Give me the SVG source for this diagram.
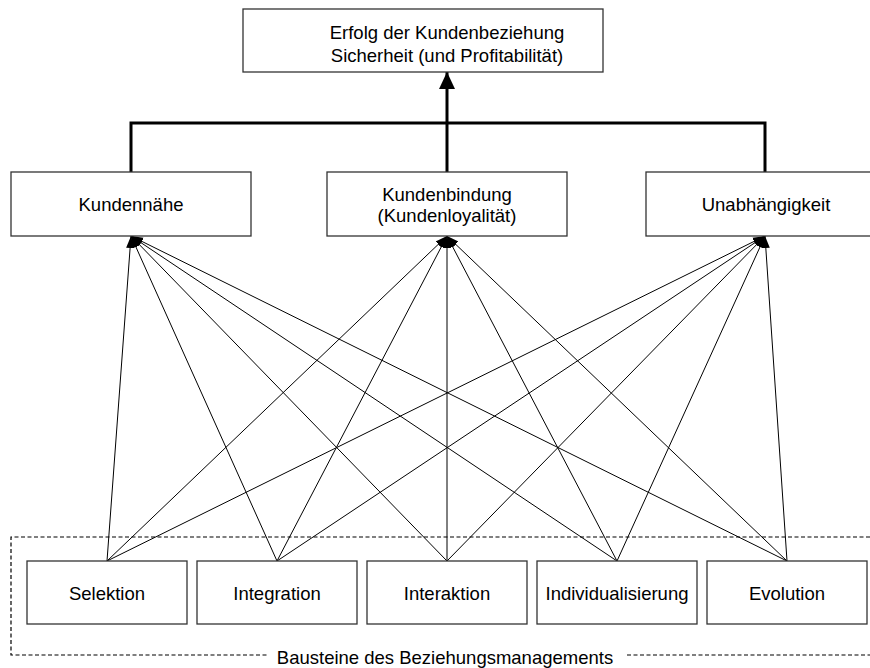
<svg xmlns="http://www.w3.org/2000/svg" width="870" height="668" viewBox="0 0 870 668">
  <style>
    .box { fill: #ffffff; stroke: #333333; stroke-width: 1.3; }
    .lbl { font-family: "Liberation Sans", Arial, sans-serif; font-size: 18.5px; fill: #000000; text-anchor: middle; }
    .thick { stroke: #000000; stroke-width: 3; fill: none; }
    .thin { stroke: #000000; stroke-width: 1; fill: none; marker-end: url(#tip); }
    .dash { stroke: #000000; stroke-width: 1.2; fill: none; stroke-dasharray: 4 2.5; }
  </style>
  <defs>
    <marker id="tip" markerUnits="userSpaceOnUse" markerWidth="12" markerHeight="10" viewBox="0 0 12 10" refX="12" refY="5" orient="auto">
      <path d="M0,1 L12,5 L0,9 Z" fill="#000000"/>
    </marker>
    <marker id="bigtip" markerUnits="userSpaceOnUse" markerWidth="17" markerHeight="16" viewBox="0 0 17 16" refX="17" refY="8" orient="auto">
      <path d="M0,0 L17,8 L0,16 Z" fill="#000000"/>
    </marker>
  </defs>

  <rect width="870" height="668" fill="#ffffff"/>

  <!-- dashed frame around the building blocks -->
  <g id="frame">
    <path class="dash" d="M870,537 H11 V655 H267"/>
    <path class="dash" d="M627,655 H870"/>
    <text class="lbl" x="445" y="664">Bausteine des Beziehungsmanagements</text>
  </g>

  <!-- connectors -->
  <g id="connectors">
    <path class="thick" d="M131,172 V123 H765 V172"/>
    <path class="thick" d="M447,172 V72" marker-end="url(#bigtip)"/>

    <line class="thin" x1="107" y1="561" x2="131" y2="236"/>
    <line class="thin" x1="107" y1="561" x2="447" y2="236"/>
    <line class="thin" x1="107" y1="561" x2="765" y2="236"/>

    <line class="thin" x1="277" y1="561" x2="131" y2="236"/>
    <line class="thin" x1="277" y1="561" x2="447" y2="236"/>
    <line class="thin" x1="277" y1="561" x2="765" y2="236"/>

    <line class="thin" x1="447" y1="561" x2="131" y2="236"/>
    <line class="thin" x1="447" y1="561" x2="447" y2="236"/>
    <line class="thin" x1="447" y1="561" x2="765" y2="236"/>

    <line class="thin" x1="617" y1="561" x2="131" y2="236"/>
    <line class="thin" x1="617" y1="561" x2="447" y2="236"/>
    <line class="thin" x1="617" y1="561" x2="765" y2="236"/>

    <line class="thin" x1="787" y1="561" x2="131" y2="236"/>
    <line class="thin" x1="787" y1="561" x2="447" y2="236"/>
    <line class="thin" x1="787" y1="561" x2="765" y2="236"/>
  </g>

  <!-- top goal -->
  <g id="erfolg">
    <rect class="box" x="243" y="9" width="360" height="63"/>
    <text class="lbl" x="447" y="39">Erfolg der Kundenbeziehung</text>
    <text class="lbl" x="447" y="62">Sicherheit (und Profitabilität)</text>
  </g>

  <!-- middle tier -->
  <g id="kundennaehe">
    <rect class="box" x="11" y="172" width="240" height="64"/>
    <text class="lbl" x="131" y="211">Kundennähe</text>
  </g>
  <g id="kundenbindung">
    <rect class="box" x="327" y="172" width="240" height="64"/>
    <text class="lbl" x="447" y="200.5">Kundenbindung</text>
    <text class="lbl" x="447" y="222">(Kundenloyalität)</text>
  </g>
  <g id="unabhaengigkeit">
    <rect class="box" x="646" y="172" width="240" height="64"/>
    <text class="lbl" x="766" y="211">Unabhängigkeit</text>
  </g>

  <!-- building blocks -->
  <g id="selektion">
    <rect class="box" x="27" y="561" width="160" height="63"/>
    <text class="lbl" x="107" y="600">Selektion</text>
  </g>
  <g id="integration">
    <rect class="box" x="197" y="561" width="160" height="63"/>
    <text class="lbl" x="277" y="600">Integration</text>
  </g>
  <g id="interaktion">
    <rect class="box" x="367" y="561" width="160" height="63"/>
    <text class="lbl" x="447" y="600">Interaktion</text>
  </g>
  <g id="individualisierung">
    <rect class="box" x="537" y="561" width="160" height="63"/>
    <text class="lbl" x="617" y="600">Individualisierung</text>
  </g>
  <g id="evolution">
    <rect class="box" x="707" y="561" width="160" height="63"/>
    <text class="lbl" x="787" y="600">Evolution</text>
  </g>
</svg>
